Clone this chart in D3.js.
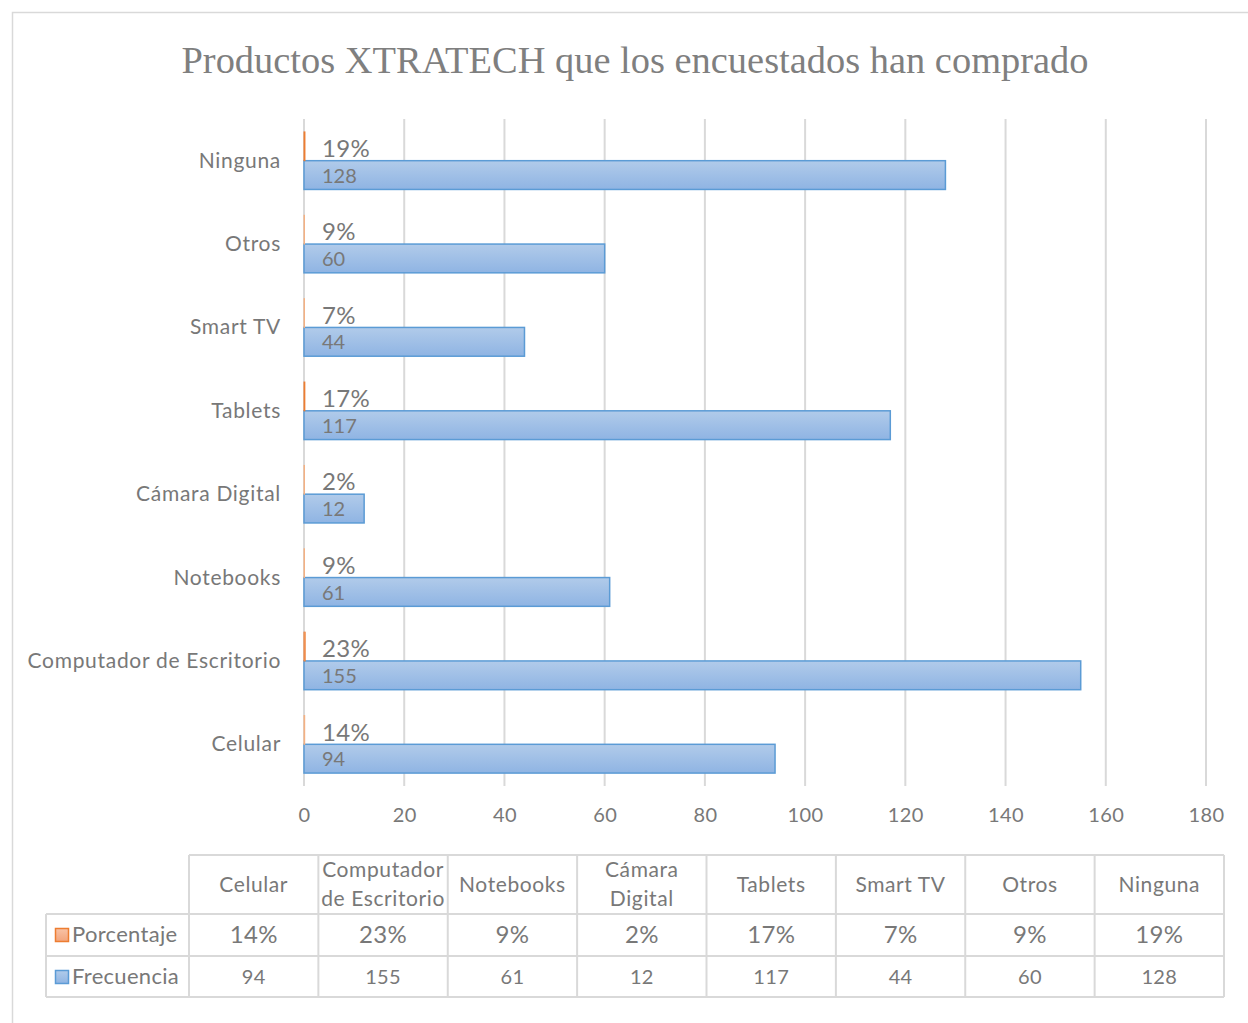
<!DOCTYPE html>
<html><head><meta charset="utf-8">
<script src="https://cdn.jsdelivr.net/npm/d3@7"></script>
<style>body{margin:0;background:#fff}svg{display:block}</style>
</head><body>
<script>
const categories = ["Celular","Computador de Escritorio","Notebooks","Cámara Digital","Tablets","Smart TV","Otros","Ninguna"];
const headerLines = [["Celular"],["Computador","de Escritorio"],["Notebooks"],["Cámara","Digital"],["Tablets"],["Smart TV"],["Otros"],["Ninguna"]];
const frecuencia = [94,155,61,12,117,44,60,128];
const porcentaje = [0.14,0.23,0.09,0.02,0.17,0.07,0.09,0.19];
const xTicks = [0,20,40,60,80,100,120,140,160,180];
const title = "Productos XTRATECH que los encuestados han comprado";
const seriesNames = ["Porcentaje","Frecuencia"];

const W=1248,H=1023;
const svg=d3.select("body").append("svg").attr("width",W).attr("height",H);
const defs=svg.append("defs");
function grad(id,c1,c2){const g=defs.append("linearGradient").attr("id",id).attr("x1",0).attr("y1",0).attr("x2",0).attr("y2",1);
 g.append("stop").attr("offset","0%").attr("stop-color",c1);g.append("stop").attr("offset","100%").attr("stop-color",c2);}
grad("gb","#b1cbea","#8fb4e3");
grad("go","#f8c3a6","#f2a47c");

svg.append("rect").attr("x",12.5).attr("y",12.5).attr("width",1260).attr("height",1040).attr("fill","#fff").attr("stroke","#d9d9d9").attr("stroke-width",1.5);

svg.append("text").attr("x",635).attr("y",73).attr("text-anchor","middle")
 .attr("font-family","Liberation Serif, Times New Roman, serif").attr("font-size",37).attr("fill","#7f7f7f")
 .attr("textLength",907).attr("lengthAdjust","spacingAndGlyphs").text(title);

const font="Lato, 'Open Sans', sans-serif";
const tc="#787878";
const x=d3.scaleLinear().domain([0,180]).range([304,1206]);
const topCats=categories.slice().reverse();
const y=d3.scaleBand().domain(topCats).range([119,786]).paddingInner(0.31).paddingOuter(0.155);
const ys=d3.scaleBand().domain(seriesNames).range([0,y.bandwidth()]);

// grid
svg.append("g").selectAll("line").data(xTicks).join("line")
 .attr("x1",d=>x(d)).attr("x2",d=>x(d)).attr("y1",119).attr("y2",786)
 .attr("stroke","#d9d9d9").attr("stroke-width",2);

// x axis labels
const ax=svg.append("g").attr("transform","translate(0,822)").call(d3.axisBottom(x).tickValues(xTicks).tickSize(0).tickPadding(0));
ax.select(".domain").remove();
ax.selectAll("text").attr("font-family",font).attr("font-size",20).attr("letter-spacing",0.4).attr("fill",tc).attr("dy",0);

// category labels
svg.append("g").selectAll("text").data(categories).join("text")
 .attr("x",281).attr("y",d=>y(d)+y.bandwidth()/2+7).attr("text-anchor","end")
 .attr("font-family",font).attr("font-size",21).attr("letter-spacing",0.7).attr("fill",tc).text(d=>d);

const data=categories.map((c,i)=>({c,f:frecuencia[i],p:porcentaje[i]}));
const g=svg.append("g");
// blue bars
g.selectAll("rect.f").data(data).join("rect").attr("class","f")
 .attr("x",x(0)).attr("y",d=>y(d.c)+ys("Frecuencia")).attr("width",d=>x(d.f)-x(0)).attr("height",ys.bandwidth())
 .attr("fill","url(#gb)").attr("stroke","#5b9bd5").attr("stroke-width",1.5);
// orange bars
g.selectAll("rect.p").data(data).join("rect").attr("class","p")
 .attr("x",x(0)).attr("y",d=>y(d.c)+ys("Porcentaje")).attr("width",d=>Math.max(0.5,x(d.p)-x(0))).attr("height",ys.bandwidth())
 .attr("fill","url(#go)").attr("stroke",d=>d.p>=0.17?"#ed7d31":"#f4b183").attr("stroke-width",1);
// labels
g.selectAll("text.pl").data(data).join("text").attr("class","pl")
 .attr("x",x(0)+18).attr("y",d=>y(d.c)+ys("Porcentaje")+25)
 .attr("font-family",font).attr("font-size",24).attr("letter-spacing",0.3).attr("fill",tc).text(d=>Math.round(d.p*100)+"%");
g.selectAll("text.fl").data(data).join("text").attr("class","fl")
 .attr("x",x(0)+18).attr("y",d=>y(d.c)+ys("Frecuencia")+22)
 .attr("font-family",font).attr("font-size",20).attr("fill",tc).text(d=>d.f);

// data table
const tx=d3.scaleBand().domain(categories).range([189,1224]);
const rows=[855,914,956,997];
const tg=svg.append("g");
const lc="#d9d9d9";
tg.append("line").attr("x1",189).attr("x2",1224).attr("y1",rows[0]).attr("y2",rows[0]).attr("stroke",lc).attr("stroke-width",2);
[rows[1],rows[2],rows[3]].forEach(yy=>tg.append("line").attr("x1",46).attr("x2",1224).attr("y1",yy).attr("y2",yy).attr("stroke",lc).attr("stroke-width",2));
const vx=categories.map(c=>tx(c)).concat([1224]);
tg.selectAll("line.v").data(vx).join("line").attr("class","v").attr("x1",d=>d).attr("x2",d=>d).attr("y1",rows[0]).attr("y2",rows[3]).attr("stroke",lc).attr("stroke-width",2);
tg.append("line").attr("x1",46).attr("x2",46).attr("y1",rows[1]).attr("y2",rows[3]).attr("stroke",lc).attr("stroke-width",2);

headerLines.forEach((ls,i)=>{
 const cx=tx(categories[i])+tx.bandwidth()/2;
 const yc=(rows[0]+rows[1])/2;
 ls.forEach((l,j)=>{
  tg.append("text").attr("x",cx).attr("y",yc+7+(j-(ls.length-1)/2)*29).attr("text-anchor","middle")
   .attr("font-family",font).attr("font-size",21).attr("letter-spacing",0.6).attr("fill",tc).text(l);
 });
});
tg.selectAll("text.tp").data(data).join("text").attr("class","tp")
 .attr("x",d=>tx(d.c)+tx.bandwidth()/2).attr("y",(rows[1]+rows[2])/2+8).attr("text-anchor","middle")
 .attr("font-family",font).attr("font-size",24).attr("letter-spacing",0.3).attr("fill",tc).text(d=>Math.round(d.p*100)+"%");
tg.selectAll("text.tf").data(data).join("text").attr("class","tf")
 .attr("x",d=>tx(d.c)+tx.bandwidth()/2).attr("y",(rows[2]+rows[3])/2+7).attr("text-anchor","middle")
 .attr("font-family",font).attr("font-size",20).attr("letter-spacing",0.3).attr("fill",tc).text(d=>d.f);
[["Porcentaje","url(#go)","#ed7d31",rows[1]],["Frecuencia","url(#gb)","#5b9bd5",rows[2]]].forEach(([n,f,s,r])=>{
 const yc=r+(rows[2]-rows[1])/2;
 tg.append("rect").attr("x",55.5).attr("y",yc-6.5).attr("width",13).attr("height",13).attr("fill",f).attr("stroke",s).attr("stroke-width",1.5);
 tg.append("text").attr("x",72).attr("y",yc+7).attr("font-family",font).attr("font-size",22).attr("letter-spacing",0.3).attr("fill",tc).text(n);
});
</script>
</body></html>
